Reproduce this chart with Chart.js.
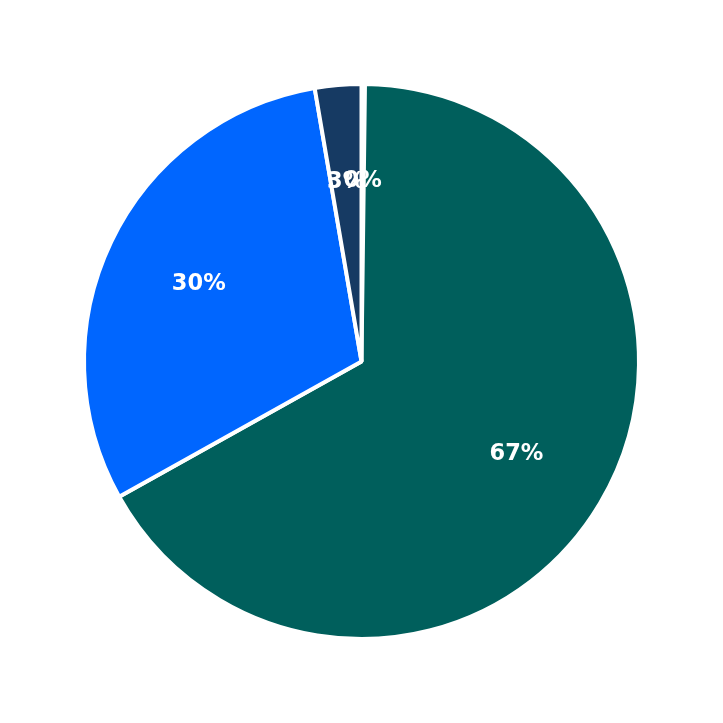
<!DOCTYPE html>
<html>
<head>
<meta charset="utf-8">
<script src="https://cdn.jsdelivr.net/npm/chart.js@4"></script>
<style>
html, body { margin: 0; padding: 0; background: #fff; }
#wrap { width: 723px; height: 723px; }
</style>
</head>
<body>
<div id="wrap"><canvas id="chart" width="723" height="723"></canvas></div>
<script>
const categories = ["Other", "Segment A", "Segment B", "Segment C"];
const values = [0.2, 66.7, 30.4, 2.7];
const colors = ["#e8eef5", "#005f5c", "#0066ff", "#163a63"];

// draw the percentage inside each slice
const sliceLabels = {
  id: "sliceLabels",
  afterDatasetsDraw(chart) {
    const ctx = chart.ctx;
    const meta = chart.getDatasetMeta(0);
    const total = values.reduce((a, b) => a + b, 0);
    ctx.save();
    ctx.fillStyle = "#ffffff";
    ctx.font = "bold 22.5px 'DejaVu Sans'";
    ctx.textAlign = "center";
    ctx.textBaseline = "middle";
    meta.data.forEach((arc, i) => {
      const mid = (arc.startAngle + arc.endAngle) / 2;
      const r = arc.outerRadius * 0.65;
      const x = arc.x + Math.cos(mid) * r;
      const y = arc.y + Math.sin(mid) * r;
      ctx.fillText(Math.round(values[i] / total * 100) + "%", x, y);
    });
    ctx.restore();
  }
};

new Chart(document.getElementById("chart"), {
  type: "pie",
  data: {
    labels: categories,
    datasets: [{
      data: values,
      backgroundColor: colors,
      borderColor: "#ffffff",
      borderWidth: 4
    }]
  },
  options: {
    responsive: false,
    animation: false,
    layout: { padding: 82 },
    plugins: {
      legend: { display: false },
      tooltip: { enabled: false }
    }
  },
  plugins: [sliceLabels]
});
</script>
</body>
</html>
